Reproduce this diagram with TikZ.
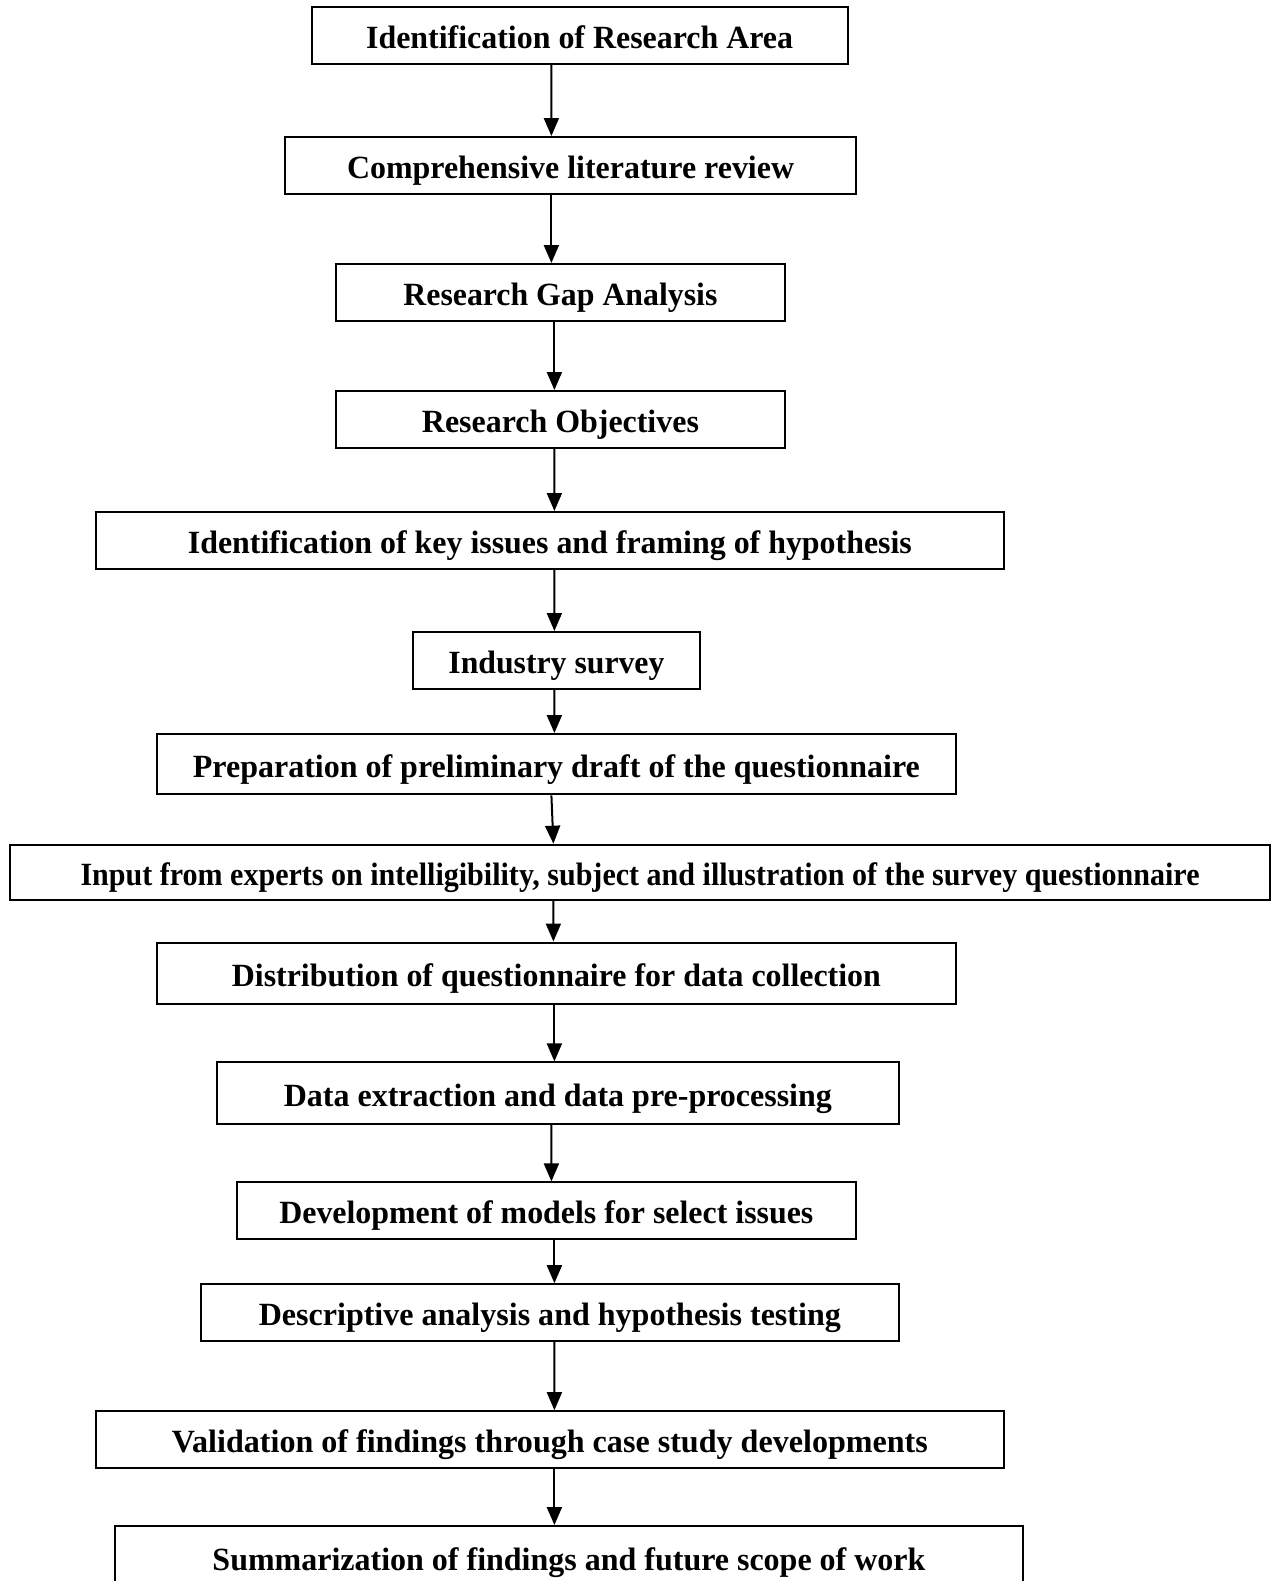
\documentclass[tikz,border=0pt]{standalone}
\usepackage{fontspec}
\setmainfont{Liberation Serif}
\usetikzlibrary{arrows.meta}
% squeeze or stretch a label horizontally to a given width
\newcommand{\fitto}[2]{\resizebox{#1}{\height}{#2}}
\tikzset{
  stage/.style={draw, line width=1pt, rectangle, inner sep=0pt, fill=white,
    text height=13pt, text depth=0pt,
    font=\fontsize{16.2}{18}\selectfont\bfseries},
  flow/.style={-{Triangle[length=9pt,width=7.5pt]}, line width=1pt}
}
\begin{document}
\begin{tikzpicture}[x=0.5pt,y=-0.5pt]
\useasboundingbox (0,0) rectangle (1272,1581);
\fill[white] (0,0) rectangle (1272,1581);
\clip (0,0) rectangle (1272,1581);

\node[stage, minimum width=268.1pt, minimum height=28.25pt] (n1) at (579.6,35.25) {\fitto{213.5pt}{Identification of Research Area}};
\node[stage, minimum width=285.25pt, minimum height=28.25pt] (n2) at (570.55,165.25) {\fitto{223.5pt}{Comprehensive literature review}};
\node[stage, minimum width=224.75pt, minimum height=28.25pt] (n3) at (560.45,292.25) {\fitto{157pt}{Research Gap Analysis}};
\node[stage, minimum width=224.75pt, minimum height=28.25pt] (n4) at (560.45,419.25) {\fitto{138.5pt}{Research Objectives}};
\node[stage, minimum width=454.1pt, minimum height=28.25pt] (n5) at (549.9,540.25) {\fitto{362pt}{Identification of key issues and framing of hypothesis}};
\node[stage, minimum width=143.15pt, minimum height=28.25pt] (n6) at (556.45,660.25) {\fitto{108pt}{Industry survey}};
\node[stage, minimum width=399.2pt, minimum height=30.15pt] (n7) at (556.4,764.15) {\fitto{363.5pt}{Preparation of preliminary draft of the questionnaire}};
\node[stage, minimum width=630.05pt, minimum height=27.65pt] (n8) at (640.05,872.35) {\fitto{559.5pt}{Input from experts on intelligibility, subject and illustration of the survey questionnaire}};
\node[stage, minimum width=399.2pt, minimum height=30.75pt] (n9) at (556.4,973.25) {\fitto{324.5pt}{Distribution of questionnaire for data collection}};
\node[stage, minimum width=341.2pt, minimum height=30.8pt] (n10) at (557.9,1093.2) {\fitto{274pt}{Data extraction and data pre-processing}};
\node[stage, minimum width=309.45pt, minimum height=28.2pt] (n11) at (546.35,1210.6) {\fitto{267pt}{Development of models for select issues}};
\node[stage, minimum width=349.25pt, minimum height=28.2pt] (n12) at (549.85,1312.4) {\fitto{291pt}{Descriptive analysis and hypothesis testing}};
\node[stage, minimum width=454.1pt, minimum height=28.2pt] (n13) at (549.9,1439.4) {\fitto{378pt}{Validation of findings through case study developments}};
\node[stage, minimum width=454.1pt, minimum height=31pt] (n14) at (569,1557) {\fitto{356.5pt}{Summarization of findings and future scope of work}};

\draw[flow] ([xshift=-14.1pt]n1.south) -- ([xshift=-9.58pt]n2.north);
\draw[flow] ([xshift=-9.58pt]n2.south) -- ([xshift=-4.53pt]n3.north);
\draw[flow] ([xshift=-3.03pt]n3.south) -- ([xshift=-3.03pt]n4.north);
\draw[flow] ([xshift=-3.03pt]n4.south) -- ([xshift=2.25pt]n5.north);
\draw[flow] ([xshift=2.25pt]n5.south) -- ([xshift=-1.03pt]n6.north);
\draw[flow] ([xshift=-1.03pt]n6.south) -- ([xshift=-1pt]n7.north);
\draw[flow] ([xshift=-2.5pt]n7.south) -- ([xshift=-43.33pt]n8.north);
\draw[flow] ([xshift=-43.33pt]n8.south) -- ([xshift=-1.5pt]n9.north);
\draw[flow] ([xshift=-1pt]n9.south) -- ([xshift=-1.75pt]n10.north);
\draw[flow] ([xshift=-3.25pt]n10.south) -- ([xshift=2.53pt]n11.north);
\draw[flow] ([xshift=4.03pt]n11.south) -- ([xshift=2.28pt]n12.north);
\draw[flow] ([xshift=2.28pt]n12.south) -- ([xshift=2.25pt]n13.north);
\draw[flow] ([xshift=2.25pt]n13.south) -- ([xshift=-7.3pt]n14.north);
\end{tikzpicture}
\end{document}
